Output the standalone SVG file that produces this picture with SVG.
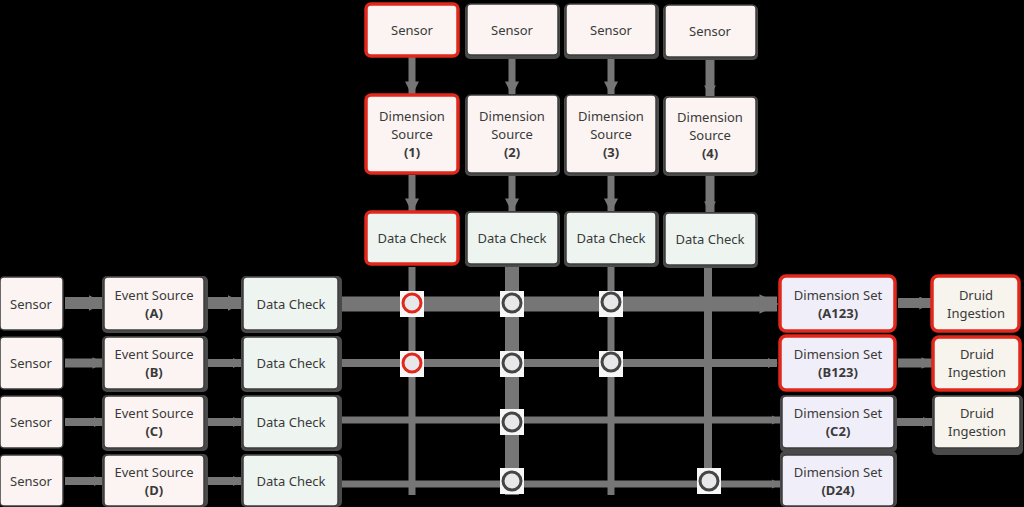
<svg xmlns="http://www.w3.org/2000/svg" width="1024" height="507" viewBox="0 0 1024 507">
<defs>
<style>
.bg{fill:#000}
.box{stroke:#3c3c3c;stroke-width:1.5}
.sh{fill:#4a4a4a}
.red{stroke:#e0281c;stroke-width:3.5}
.src{fill:#fbf4f2}
.chk{fill:#eef5f1}
.dim{fill:#f0eef8}
.drd{fill:#f6f4ec}
text{font-family:"Noto Sans","Liberation Sans",sans-serif;font-size:13px;fill:#3a3a3a;text-anchor:middle;dominant-baseline:central}
.b{font-weight:bold}
.ln{stroke:#767676;fill:none}
.halo{fill:#f7f7f7}
.jn{fill:#e8e8ea;stroke:#454545;stroke-width:3}
.jr{fill:#e8e8ea;stroke:#e0281c;stroke-width:3}
</style>
<marker id="ah" viewBox="0 0 10 10" refX="9" refY="5" markerWidth="2" markerHeight="2" markerUnits="strokeWidth" orient="auto">
<path d="M0,0 L10,5 L0,10 Z" fill="#767676"/>
</marker>
<marker id="ah2" viewBox="0 0 10 10" refX="9" refY="5" markerWidth="1.3" markerHeight="1.3" markerUnits="strokeWidth" orient="auto">
<path d="M0,0 L10,5 L0,10 Z" fill="#767676"/>
</marker>
</defs>
<rect class="bg" x="0" y="0" width="1024" height="507"/>

<g id="connectors">
<!-- top verticals -->
<line class="ln" x1="412" y1="57" x2="412" y2="94" stroke-width="7" marker-end="url(#ah)"/>
<line class="ln" x1="512" y1="57" x2="512" y2="94" stroke-width="7" marker-end="url(#ah)"/>
<line class="ln" x1="611" y1="57" x2="611" y2="94" stroke-width="7" marker-end="url(#ah)"/>
<line class="ln" x1="710" y1="59" x2="710" y2="96" stroke-width="9" marker-end="url(#ah2)"/>
<line class="ln" x1="412" y1="175" x2="412" y2="211" stroke-width="7" marker-end="url(#ah)"/>
<line class="ln" x1="512" y1="175" x2="512" y2="211" stroke-width="7" marker-end="url(#ah)"/>
<line class="ln" x1="611" y1="175" x2="611" y2="211" stroke-width="7" marker-end="url(#ah)"/>
<line class="ln" x1="710" y1="175" x2="710" y2="212" stroke-width="9" marker-end="url(#ah2)"/>
<!-- verticals down the grid -->
<line class="ln" x1="412" y1="267" x2="412" y2="495" stroke-width="7"/>
<line class="ln" x1="512" y1="267" x2="512" y2="495" stroke-width="14"/>
<line class="ln" x1="611" y1="267" x2="611" y2="495" stroke-width="7"/>
<line class="ln" x1="708" y1="267" x2="708" y2="481" stroke-width="8"/>
<!-- left row arrows -->
<line class="ln" x1="65" y1="303" x2="103" y2="303" stroke-width="12" marker-end="url(#ah2)"/>
<line class="ln" x1="65" y1="363" x2="103" y2="363" stroke-width="9" marker-end="url(#ah2)"/>
<line class="ln" x1="65" y1="422" x2="103" y2="422" stroke-width="8" marker-end="url(#ah2)"/>
<line class="ln" x1="65" y1="481" x2="103" y2="481" stroke-width="8" marker-end="url(#ah2)"/>
<line class="ln" x1="206" y1="303" x2="242" y2="303" stroke-width="12" marker-end="url(#ah2)"/>
<line class="ln" x1="206" y1="363" x2="242" y2="363" stroke-width="8" marker-end="url(#ah2)"/>
<line class="ln" x1="206" y1="422" x2="242" y2="422" stroke-width="8" marker-end="url(#ah2)"/>
<line class="ln" x1="206" y1="481" x2="242" y2="481" stroke-width="8" marker-end="url(#ah2)"/>
<!-- main horizontals -->
<line class="ln" x1="340" y1="304" x2="777" y2="304" stroke-width="15" marker-end="url(#ah2)"/>
<line class="ln" x1="340" y1="363" x2="777" y2="363" stroke-width="8" marker-end="url(#ah2)"/>
<line class="ln" x1="340" y1="420" x2="780" y2="420" stroke-width="7" marker-end="url(#ah2)"/>
<line class="ln" x1="340" y1="484" x2="780" y2="484" stroke-width="7" marker-end="url(#ah2)"/>
<!-- to druid -->
<line class="ln" x1="898" y1="303" x2="931" y2="303" stroke-width="10" marker-end="url(#ah2)"/>
<line class="ln" x1="898" y1="363" x2="932" y2="363" stroke-width="9" marker-end="url(#ah2)"/>
<line class="ln" x1="896" y1="422" x2="932" y2="422" stroke-width="8" marker-end="url(#ah2)"/>
</g>

<g id="junctions">
<rect class="halo" x="400" y="291" width="24" height="26"/><circle class="jr" cx="412" cy="303" r="9"/>
<rect class="halo" x="400" y="351" width="24" height="26"/><circle class="jr" cx="412" cy="363" r="9"/>
<rect class="halo" x="500" y="291" width="24" height="26"/><circle class="jn" cx="512" cy="303" r="9"/>
<rect class="halo" x="500" y="351" width="24" height="26"/><circle class="jn" cx="512" cy="363" r="9"/>
<rect class="halo" x="500" y="409" width="24" height="26"/><circle class="jn" cx="512" cy="422" r="9"/>
<rect class="halo" x="500" y="468" width="24" height="26"/><circle class="jn" cx="512" cy="481" r="9"/>
<rect class="halo" x="599" y="291" width="24" height="26"/><circle class="jn" cx="611" cy="302" r="9"/>
<rect class="halo" x="599" y="351" width="24" height="26"/><circle class="jn" cx="611" cy="362" r="9"/>
<rect class="halo" x="697" y="468" width="24" height="26"/><circle class="jn" cx="709" cy="481" r="9"/>
</g>

<!-- top columns -->
<g id="sensor1"><rect class="src red" x="366" y="4" width="92" height="52" rx="5"/><text x="412" y="30">Sensor</text></g>
<g id="sensor2"><rect class="sh" x="465" y="4" width="95" height="55" rx="5"/><rect class="src box" x="467" y="4" width="91" height="51" rx="4"/><text x="512" y="30">Sensor</text></g>
<g id="sensor3"><rect class="sh" x="564" y="4" width="95" height="55" rx="5"/><rect class="src box" x="566" y="4" width="90" height="51" rx="4"/><text x="611" y="30">Sensor</text></g>
<g id="sensor4"><rect class="sh" x="663" y="5" width="95" height="55" rx="5"/><rect class="src box" x="665" y="5" width="91" height="52" rx="4"/><text x="710" y="31">Sensor</text></g>

<g id="dimsrc1"><rect class="src red" x="366" y="95" width="92" height="78" rx="5"/><text x="412" y="116">Dimension</text><text x="412" y="134">Source</text><text class="b" x="412" y="152">(1)</text></g>
<g id="dimsrc2"><rect class="sh" x="465" y="95" width="95" height="81" rx="5"/><rect class="src box" x="467" y="95" width="91" height="78" rx="4"/><text x="512" y="116">Dimension</text><text x="512" y="134">Source</text><text class="b" x="512" y="152">(2)</text></g>
<g id="dimsrc3"><rect class="sh" x="564" y="95" width="95" height="81" rx="5"/><rect class="src box" x="566" y="95" width="90" height="78" rx="4"/><text x="611" y="116">Dimension</text><text x="611" y="134">Source</text><text class="b" x="611" y="152">(3)</text></g>
<g id="dimsrc4"><rect class="sh" x="663" y="96" width="95" height="80" rx="5"/><rect class="src box" x="665" y="97" width="91" height="76" rx="4"/><text x="710" y="117">Dimension</text><text x="710" y="135">Source</text><text class="b" x="710" y="153">(4)</text></g>

<g id="chk1"><rect class="chk red" x="366" y="212" width="92" height="52" rx="5"/><text x="412" y="238">Data Check</text></g>
<g id="chk2"><rect class="sh" x="465" y="211" width="95" height="56" rx="5"/><rect class="chk box" x="467" y="212" width="91" height="52" rx="4"/><text x="512" y="238">Data Check</text></g>
<g id="chk3"><rect class="sh" x="564" y="211" width="95" height="56" rx="5"/><rect class="chk box" x="566" y="212" width="90" height="52" rx="4"/><text x="611" y="238">Data Check</text></g>
<g id="chk4"><rect class="sh" x="663" y="212" width="95" height="56" rx="5"/><rect class="chk box" x="665" y="213" width="91" height="52" rx="4"/><text x="710" y="239">Data Check</text></g>

<!-- left rows -->
<g id="sensorA"><rect class="src box" x="0" y="277" width="63" height="53" rx="4"/><text x="31" y="304">Sensor</text></g>
<g id="sensorB"><rect class="src box" x="0" y="337" width="63" height="52" rx="4"/><text x="31" y="363">Sensor</text></g>
<g id="sensorC"><rect class="src box" x="0" y="396" width="63" height="52" rx="4"/><text x="31" y="422">Sensor</text></g>
<g id="sensorD"><rect class="src box" x="0" y="455" width="63" height="51" rx="4"/><text x="31" y="481">Sensor</text></g>

<g id="evA"><rect class="sh" x="102" y="276" width="106" height="57" rx="5"/><rect class="src box" x="104" y="277" width="100" height="53" rx="4"/><text x="154" y="295">Event Source</text><text class="b" x="154" y="313">(A)</text></g>
<g id="evB"><rect class="sh" x="102" y="336" width="106" height="56" rx="5"/><rect class="src box" x="104" y="337" width="100" height="52" rx="4"/><text x="154" y="354">Event Source</text><text class="b" x="154" y="372">(B)</text></g>
<g id="evC"><rect class="sh" x="102" y="395" width="106" height="56" rx="5"/><rect class="src box" x="104" y="396" width="100" height="52" rx="4"/><text x="154" y="413">Event Source</text><text class="b" x="154" y="431">(C)</text></g>
<g id="evD"><rect class="sh" x="102" y="454" width="106" height="53" rx="5"/><rect class="src box" x="104" y="455" width="100" height="51" rx="4"/><text x="154" y="472">Event Source</text><text class="b" x="154" y="490">(D)</text></g>

<g id="chkA"><rect class="sh" x="241" y="276" width="101" height="57" rx="5"/><rect class="chk box" x="243" y="277" width="95" height="53" rx="4"/><text x="291" y="304">Data Check</text></g>
<g id="chkB"><rect class="sh" x="241" y="336" width="101" height="56" rx="5"/><rect class="chk box" x="243" y="337" width="95" height="52" rx="4"/><text x="291" y="363">Data Check</text></g>
<g id="chkC"><rect class="sh" x="241" y="395" width="101" height="56" rx="5"/><rect class="chk box" x="243" y="396" width="95" height="52" rx="4"/><text x="291" y="422">Data Check</text></g>
<g id="chkD"><rect class="sh" x="241" y="454" width="101" height="53" rx="5"/><rect class="chk box" x="243" y="455" width="95" height="51" rx="4"/><text x="291" y="481">Data Check</text></g>

<!-- right -->
<g id="dsA"><rect class="dim red" x="780" y="276" width="115" height="55" rx="6"/><text x="838" y="295">Dimension Set</text><text class="b" x="838" y="313">(A123)</text></g>
<g id="dsB"><rect class="dim red" x="780" y="336" width="115" height="54" rx="6"/><text x="838" y="354">Dimension Set</text><text class="b" x="838" y="372">(B123)</text></g>
<g id="dsC"><rect class="sh" x="780" y="395" width="117" height="57" rx="5"/><rect class="dim box" x="782" y="396" width="112" height="52" rx="4"/><text x="838" y="413">Dimension Set</text><text class="b" x="838" y="431">(C2)</text></g>
<g id="dsD"><rect class="sh" x="780" y="451" width="117" height="56" rx="5"/><rect class="dim box" x="782" y="455" width="112" height="51" rx="4"/><text x="838" y="472">Dimension Set</text><text class="b" x="838" y="490">(D24)</text></g>

<g id="drA"><rect class="drd red" x="932" y="276" width="87" height="55" rx="6"/><text x="976" y="295">Druid</text><text x="976" y="313">Ingestion</text></g>
<g id="drB"><rect class="drd red" x="933" y="337" width="87" height="53" rx="6"/><text x="977" y="354">Druid</text><text x="977" y="372">Ingestion</text></g>
<g id="drC"><rect class="sh" x="932" y="395" width="91" height="60" rx="5"/><rect class="drd box" x="934" y="396" width="86" height="52" rx="4"/><text x="977" y="413">Druid</text><text x="977" y="431">Ingestion</text></g>
</svg>
